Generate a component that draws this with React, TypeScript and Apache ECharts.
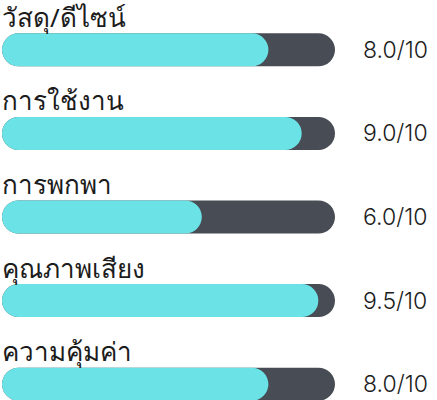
import React, { useEffect, useRef } from "react";
import * as echarts from "echarts";

const categories = ["วัสดุ/ดีไซน์", "การใช้งาน", "การพกพา", "คุณภาพเสียง", "ความคุ้มค่า"];
const scores = [8.0, 9.0, 6.0, 9.5, 8.0];
const maxScore = 10;
const scoreLabels = ["8.0/10", "9.0/10", "6.0/10", "9.5/10", "8.0/10"];

export default function App() {
  const ref = useRef<HTMLDivElement>(null);
  useEffect(() => {
    document.body.style.margin = "0";
    const chart = echarts.init(ref.current!, null, { renderer: "svg" });
    chart.setOption({
      animation: false,
      grid: { left: 2, width: 333, top: 8, height: 418, containLabel: false, outerBoundsMode: "none" },
      xAxis: {
        type: "value",
        min: 0,
        max: maxScore,
        show: false,
      },
      yAxis: [
        {
          type: "category",
          data: categories,
          inverse: true,
          show: false,
        },
        {
          type: "category",
          data: scoreLabels,
          inverse: true,
          position: "right",
          axisLine: { show: false },
          axisTick: { show: false },
          splitLine: { show: false },
          axisLabel: {
            margin: 28,
            align: "left",
            color: "#1c1c1c",
            fontSize: 23,
            fontWeight: 300,
            fontFamily: "Inter, 'Noto Sans', sans-serif",
            padding: [0, 0, 3, 0],
          },
        },
      ],
      series: [
        {
          type: "bar",
          data: scores,
          barWidth: 33,
          yAxisIndex: 0,
          itemStyle: { color: "#6be3e6", borderRadius: 16.5 },
          showBackground: true,
          backgroundStyle: { color: "#484d55", borderRadius: 16.5, opacity: 1 },
          label: {
            show: true,
            position: [0, -3],
            align: "left",
            verticalAlign: "bottom",
            formatter: (p: any) => categories[p.dataIndex],
            color: "#1c1c1c",
            fontSize: 26,
            lineHeight: 27,
            fontFamily: "'Noto Sans', sans-serif",
          },
        },
      ],
    });
    return () => chart.dispose();
  }, []);
  return <div ref={ref} style={{ width: 437, height: 400 }} />;
}
